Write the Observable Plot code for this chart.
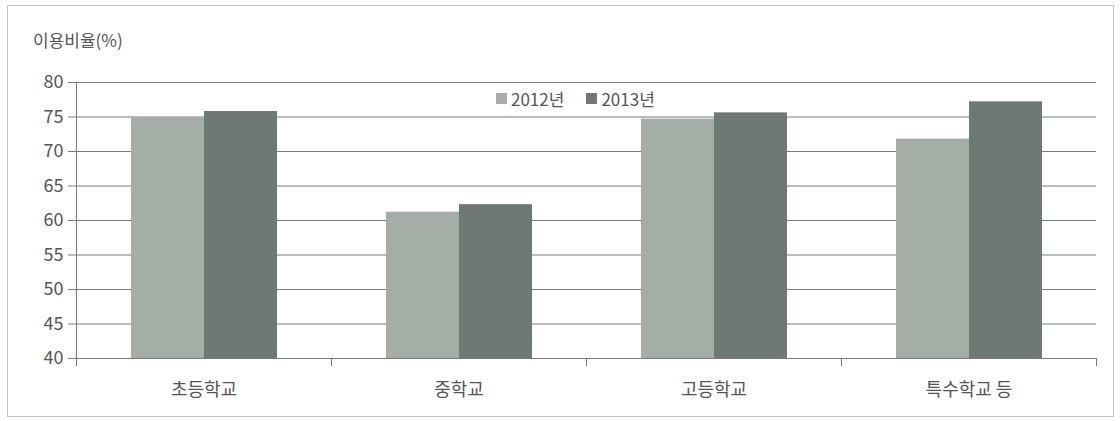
<!DOCTYPE html>
<html><head><meta charset="utf-8">
<script src="https://cdn.jsdelivr.net/npm/d3@7"></script>
<script src="https://cdn.jsdelivr.net/npm/@observablehq/plot@0.6"></script>
<style>
body{margin:0;background:#fff;font-family:"Noto Sans CJK KR",sans-serif;}
#wrap{position:relative;width:1120px;height:421px;overflow:hidden;background:#fff;}
#border{position:absolute;left:7px;top:5px;width:1107px;height:412px;border:1px solid #c4c4c4;box-sizing:border-box;}
#title{position:absolute;left:33px;top:28px;font-size:17px;line-height:24px;color:#555;}
#chart{position:absolute;left:0;top:60px;}
#legend{position:absolute;left:496px;top:82px;}
#legend span{margin-right:22px;}
#legend svg{margin-right:4px !important;}
</style></head><body>
<div id="wrap"><div id="border"></div><div id="title">이용비율(%)</div><div id="chart"></div><div id="legend"></div></div>
<script>
const categories = ["초등학교", "중학교", "고등학교", "특수학교 등"];
const years = ["2012년", "2013년"];
const values2012 = [74.9, 61.2, 74.7, 71.8];
const values2013 = [75.8, 62.3, 75.6, 77.2];
const yTicks = [40, 45, 50, 55, 60, 65, 70, 75, 80];
const colors = ["#a5ada7", "#6f7974"];

const data = categories.flatMap((c, i) => [
  {category: c, year: years[0], value: values2012[i]},
  {category: c, year: years[1], value: values2013[i]}
]);

const font = '"Noto Sans CJK KR", sans-serif';
const plot = Plot.plot({
  width: 1120, height: 348,
  marginTop: 22, marginBottom: 50, marginLeft: 75, marginRight: 23,
  style: {fontFamily: font, color: "#555", background: "transparent"},
  fx: {domain: categories, padding: 0, label: null},
  x: {domain: years, paddingInner: 0, paddingOuter: 0.74, axis: null},
  y: {domain: [yTicks[0], yTicks[yTicks.length - 1]], label: null},
  color: {domain: years, range: colors},
  marks: [
    Plot.gridY(yTicks, {stroke: "#7a7a7a", strokeOpacity: 1}),
    Plot.barY(data, {fx: "category", x: "year", y: "value", fill: "year", clip: true}),
    Plot.ruleY([yTicks[0]], {stroke: "#7a7a7a"}),
    Plot.frame({anchor: "right", stroke: "#7a7a7a", insetTop: 276, insetBottom: -7}),
    Plot.frame({anchor: "left", stroke: "#7a7a7a", fx: [categories[0]], insetBottom: -7}),
    Plot.axisY(yTicks, {tickSize: 8, tickPadding: 5, fontSize: 18, stroke: "#7a7a7a", fill: "#555", label: null}),
    Plot.axisFx({anchor: "bottom", tickSize: 0, tickPadding: 25, fontSize: 18, fill: "#555", label: null})
  ]
});
document.getElementById("chart").appendChild(plot);
const legend = plot.legend("color", {swatchSize: 11, style: {fontSize: "17px", color: "#555", fontFamily: font}});
document.getElementById("legend").appendChild(legend);
</script>
</body></html>
